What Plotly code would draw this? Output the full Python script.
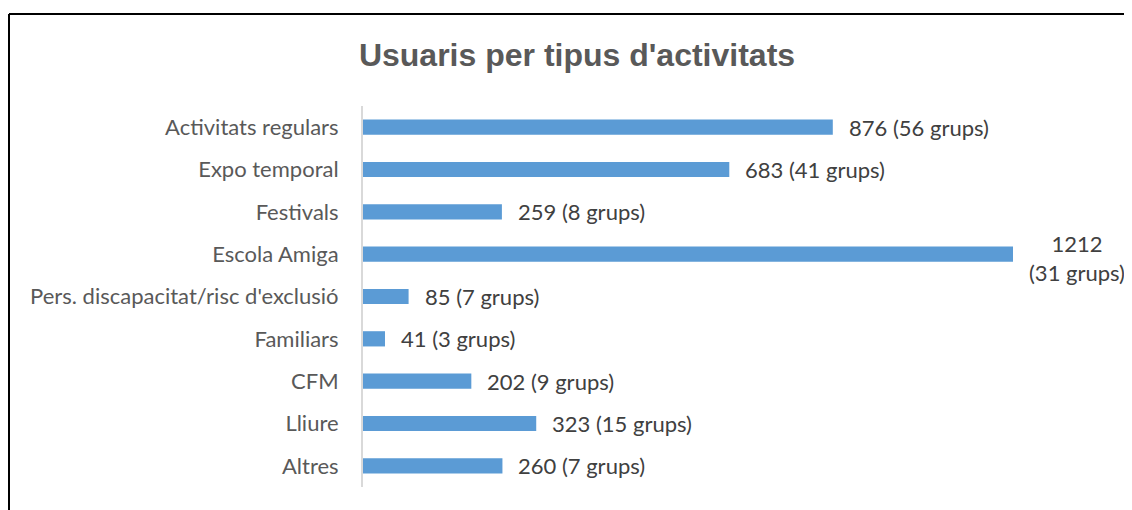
import plotly.graph_objects as go

# Data
categories = ["Activitats regulars", "Expo temporal", "Festivals", "Escola Amiga",
              "Pers. discapacitat/risc d'exclusió", "Familiars", "CFM", "Lliure", "Altres"]
users = [876, 683, 259, 1212, 85, 41, 202, 323, 260]
groups = [56, 41, 8, 31, 7, 3, 9, 15, 7]

# page has an 8px body margin, so the figure is a bit smaller than the window
W, H = 1124, 502
L, R, T, B = 355, 119, 98, 23
pw, ph = W - L - R, H - T - B

fig = go.Figure(go.Bar(
    x=users, y=categories, orientation="h",
    marker=dict(color="#5B9BD5", line=dict(width=0)),
    width=0.36, hoverinfo="skip",
))

# value labels
for c, u, g in zip(categories, users, groups):
    if u > 1000:
        fig.add_annotation(x=u, y=c, text=f"{u}<br>({g} grups)", showarrow=False,
                           xanchor="left", xshift=14, yshift=-4, align="center",
                           font=dict(family="Lato", size=22, color="#404040"))
    else:
        fig.add_annotation(x=u, y=c, text=f"{u} ({g} grups)", showarrow=False,
                           xanchor="left", xshift=14,
                           font=dict(family="Lato", size=22, color="#404040"))

# outer border (left and top edges visible)
def px_x(p):
    return (p - L) / pw

def px_y(p):
    return (H - B - p) / ph

fig.add_shape(type="line", xref="paper", yref="paper",
              x0=px_x(1), x1=px_x(1), y0=px_y(6), y1=px_y(520),
              line=dict(color="black", width=2))
fig.add_shape(type="line", xref="paper", yref="paper",
              x0=px_x(1), x1=px_x(1140), y0=px_y(6), y1=px_y(6),
              line=dict(color="black", width=2))

fig.update_layout(
    width=W, height=H,
    margin=dict(l=L, r=R, t=T, b=B),
    paper_bgcolor="white", plot_bgcolor="white",
    showlegend=False,
    title=dict(text="<b>Usuaris per tipus d'activitats</b>", x=569 / W, xanchor="center",
               y=1 - 47 / H, yanchor="middle",
               font=dict(family="Liberation Sans", size=32, color="#595959")),
    xaxis=dict(range=[0, 1212 * pw / 650], visible=False, fixedrange=True),
    yaxis=dict(autorange="reversed", showline=True, linecolor="#D9D9D9", linewidth=2,
               ticks="", ticklen=0, showgrid=False, zeroline=False,
               tickfont=dict(family="Lato", size=22, color="#595959"),
               ticklabelstandoff=18),
)

fig.write_html("out.html")
